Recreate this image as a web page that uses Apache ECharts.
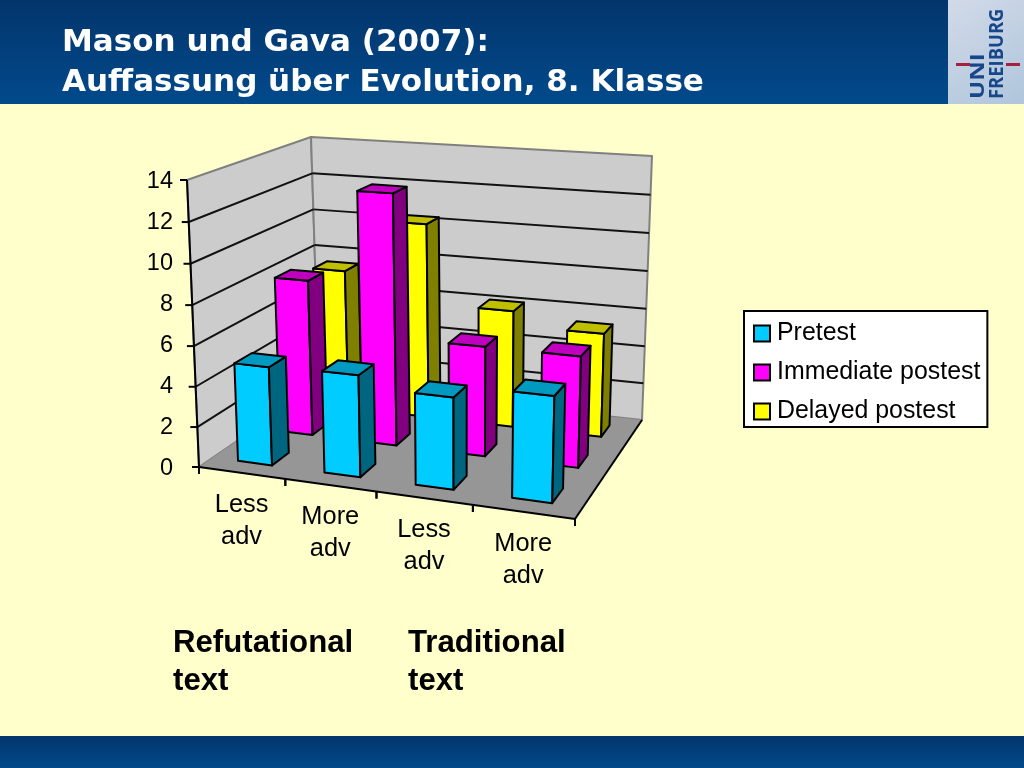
<!DOCTYPE html>
<html><head><meta charset="utf-8">
<style>html,body{margin:0;padding:0;background:#FFFFCC}#c{width:1024px;height:768px}</style>
<script src="https://cdn.jsdelivr.net/npm/echarts@6/dist/echarts.min.js"></script>
</head><body><div id="c"></div>
<script>
const categories = ['Less\nadv', 'More\nadv', 'Less\nadv', 'More\nadv'];
const pretest = [4.9, 5.0, 4.45, 5.05];
const immediatePostest = [8.05, 12.8, 5.55, 5.55];
const delayedPostest = [7.5, 10.35, 6.15, 5.4];
const seriesNames = ['Pretest', 'Immediate postest', 'Delayed postest'];
const yTicks = [0, 2, 4, 6, 8, 10, 12, 14];

// Perspective of the 3D box: floor and ceiling quads (front-left, front-right, back-right, back-left)
function homography(q) {
  const [p0, p1, p2, p3] = q;
  const sx = p0[0] - p1[0] + p2[0] - p3[0], sy = p0[1] - p1[1] + p2[1] - p3[1];
  const dx1 = p1[0] - p2[0], dx2 = p3[0] - p2[0], dy1 = p1[1] - p2[1], dy2 = p3[1] - p2[1];
  const den = dx1 * dy2 - dx2 * dy1;
  const g = (sx * dy2 - dx2 * sy) / den, h = (dx1 * sy - sx * dy1) / den;
  const a = p1[0] - p0[0] + g * p1[0], b = p3[0] - p0[0] + h * p3[0];
  const d = p1[1] - p0[1] + g * p1[1], e = p3[1] - p0[1] + h * p3[1];
  return (u, v) => {
    const w = g * u + h * v + 1;
    return [(a * u + b * v + p0[0]) / w, (d * u + e * v + p0[1]) / w];
  };
}
const floorMap = homography([[199, 467], [575, 519], [642, 420], [319, 385]]);
const ceilMap = homography([[187, 180], [583, 209], [652, 156], [311, 137]]);
// u: category position in 0..4, v: row position in 0..3, t: height fraction 0..1
function project(u, v, t) {
  const f = floorMap(u / 4, v / 3), c = ceilMap(u / 4, v / 3);
  const k = t * 0.97 + 0.03 * t * t;
  return [f[0] + (c[0] - f[0]) * k, f[1] + (c[1] - f[1]) * k];
}
function heightFraction(api, params, value) {
  const cs = params.coordSys;
  return (cs.y + cs.height - api.coord([0, value])[1]) / cs.height;
}
function poly(points, fill, stroke, lw) {
  return { type: 'polygon', shape: { points }, style: { fill, stroke, lineWidth: lw, lineJoin: 'round' } };
}
function line(a, b, stroke, lw) {
  return { type: 'line', shape: { x1: a[0], y1: a[1], x2: b[0], y2: b[1] }, style: { stroke, lineWidth: lw } };
}

function barRenderer(row, front, top, side) {
  return function (params, api) {
    const i = api.value(0), t = heightFraction(api, params, api.value(1));
    const u0 = i + 0.3, u1 = i + 0.7, v0 = row + 0.3, v1 = row + 0.7;
    const P = (u, v, h) => project(u, v, h);
    return { type: 'group', children: [
      poly([P(u0, v0, 0), P(u1, v0, 0), P(u1, v0, t), P(u0, v0, t)], front, '#000', 2),
      poly([P(u1, v0, 0), P(u1, v1, 0), P(u1, v1, t), P(u1, v0, t)], side, '#000', 2),
      poly([P(u0, v0, t), P(u1, v0, t), P(u1, v1, t), P(u0, v1, t)], top, '#000', 2)
    ] };
  };
}
function barSeries(name, values, row, front, top, side, z) {
  return {
    type: 'custom', name, z, coordinateSystem: 'cartesian2d',
    itemStyle: { color: front },
    renderItem: barRenderer(row, front, top, side),
    encode: { x: 0, y: 1 },
    data: values.map((v, i) => [i, v]),
    silent: true
  };
}

const chart = echarts.init(document.getElementById('c'), null, { renderer: 'canvas' });
const bodyFont = '"Liberation Sans", Arial, sans-serif';
chart.setOption({
  animation: false,
  backgroundColor: '#FFFFCC',
  title: {
    text: 'Mason und Gava (2007):\nAuffassung über Evolution, 8. Klasse',
    left: 57, top: 18,
    textStyle: { color: '#fff', fontFamily: '"DejaVu Sans"', fontWeight: 'bold', fontSize: 31, lineHeight: 40 }
  },
  grid: { left: 181, right: 100, top: 182, height: 287 },
  xAxis: { type: 'category', data: categories.map((c, i) => i), show: false },
  yAxis: {
    type: 'value', min: 0, max: 14, interval: 2,
    splitLine: { show: false }, axisLine: { show: false }, axisTick: { show: false },
    axisLabel: { color: '#000', fontFamily: bodyFont, fontSize: 23.5, margin: 8 }
  },
  legend: {
    data: seriesNames, orient: 'vertical', left: 744, top: 311,
    backgroundColor: '#fff', borderColor: '#000', borderWidth: 2,
    padding: [10, 7, 3, 9], itemWidth: 16, itemHeight: 16, itemGap: 14,
    icon: 'rect',
    itemStyle: { borderColor: '#000', borderWidth: 2 },
    textStyle: { color: '#000', fontFamily: bodyFont, fontSize: 24.9, padding: [0, 0, 0, 2] }
  },
  graphic: [
    { type: 'rect', z: 0, shape: { x: 0, y: 0, width: 1024, height: 104 }, style: { fill: new echarts.graphic.LinearGradient(0, 0, 0, 1, [{ offset: 0, color: '#03356B' }, { offset: 1, color: '#024A8C' }]) } },
    { type: 'rect', z: 0, shape: { x: 0, y: 736, width: 1024, height: 32 }, style: { fill: new echarts.graphic.LinearGradient(0, 0, 0, 1, [{ offset: 0, color: '#03356B' }, { offset: 1, color: '#024A8C' }]) } },
    { type: 'rect', z: 1, shape: { x: 948, y: 0, width: 76, height: 104 }, style: { fill: new echarts.graphic.LinearGradient(0, 0, 1, 1, [{ offset: 0, color: '#D2DAE8' }, { offset: 1, color: '#AFC5DC' }]) } },
    { type: 'text', z: 2, x: 978, y: 99, rotation: Math.PI / 2, scaleX: 1.2, style: { text: 'UNI', fill: '#17478A', font: 'bold 20px "Open Sans"', textAlign: 'left', textVerticalAlign: 'middle' } },
    { type: 'text', z: 2, x: 997, y: 99, rotation: Math.PI / 2, scaleX: 0.92, style: { text: 'FREIBURG', fill: '#17478A', font: 'bold 20px "Open Sans"', textAlign: 'left', textVerticalAlign: 'middle' } },
    { type: 'rect', z: 2, shape: { x: 956, y: 63, width: 14, height: 3 }, style: { fill: '#A3203F' } },
    { type: 'rect', z: 2, shape: { x: 1006, y: 63, width: 14, height: 3 }, style: { fill: '#A3203F' } },
    { type: 'text', z: 2, x: 173, y: 624, style: { text: 'Refutational\ntext', fill: '#000', font: 'bold 31.2px "Liberation Sans"', lineHeight: 38 } },
    { type: 'text', z: 2, x: 408, y: 624, style: { text: 'Traditional\ntext', fill: '#000', font: 'bold 31.2px "Liberation Sans"', lineHeight: 38 } }
  ],
  series: [
    barSeries(seriesNames[0], pretest, 0, '#00CCFF', '#0099BF', '#006680', 6),
    barSeries(seriesNames[1], immediatePostest, 1, '#FF00FF', '#BF00BF', '#800080', 5),
    barSeries(seriesNames[2], delayedPostest, 2, '#FFFF00', '#BFBF00', '#808000', 4),
    { // walls and floor
      type: 'custom', name: 'walls', z: 2, silent: true, data: [[0, 0]], encode: { x: 0, y: 1 },
      renderItem: function () {
        const A = project(0, 0, 0), B = project(4, 0, 0), C = project(4, 3, 0), D = project(0, 3, 0);
        const A1 = project(0, 0, 1), C1 = project(4, 3, 1), D1 = project(0, 3, 1);
        return { type: 'group', children: [
          poly([A, A1, D1, D], '#CCCCCC', '#808080', 2),
          poly([D, D1, C1, C], '#CCCCCC', '#808080', 2),
          poly([A, B, C, D], '#969696', null, 0)
        ] };
      }
    },
    { // gridlines and value ticks on the walls
      type: 'custom', name: 'grid', z: 3, silent: true, encode: { x: 0, y: 1 },
      data: yTicks.map(v => [0, v]),
      renderItem: function (params, api) {
        const v = api.value(1), t = heightFraction(api, params, v);
        const a = project(0, 0, t), d = project(0, 3, t), c = project(4, 3, t);
        const kids = [line([a[0] - 7, a[1]], a, '#000', 2)];
        if (v > 0 && v < 14) { kids.push(line(a, d, '#111', 2), line(d, c, '#111', 2)); }
        return { type: 'group', children: kids };
      }
    },
    { // axis lines
      type: 'custom', name: 'axes', z: 3, silent: true, data: [[0, 0]], encode: { x: 0, y: 1 },
      renderItem: function () {
        const A = project(0, 0, 0), B = project(4, 0, 0), C = project(4, 3, 0), A1 = project(0, 0, 1);
        return { type: 'group', children: [line(A, A1, '#000', 2), line(A, B, '#000', 2), line(B, C, '#000', 2)] };
      }
    },
    { // category ticks and labels along the slanted front edge
      type: 'custom', name: 'categories', z: 3, silent: true, encode: { x: 0, y: 1 },
      data: categories.map((c, i) => [i, 0]),
      renderItem: function (params, api) {
        const i = api.value(0);
        const t0 = project(i + 1, 0, 0), t00 = project(i, 0, 0), mid = project(i + 0.5, 0, 0);
        return { type: 'group', children: [
          line(t0, [t0[0], t0[1] + 7], '#000', 2),
          line(t00, [t00[0], t00[1] + 7], '#000', 2),
          { type: 'text', x: mid[0], y: mid[1] + 48, style: { text: categories[i], fill: '#000', font: '25.4px "Liberation Sans"', lineHeight: 32, textAlign: 'center', textVerticalAlign: 'middle' } }
        ] };
      }
    }
  ]
});
</script></body></html>
